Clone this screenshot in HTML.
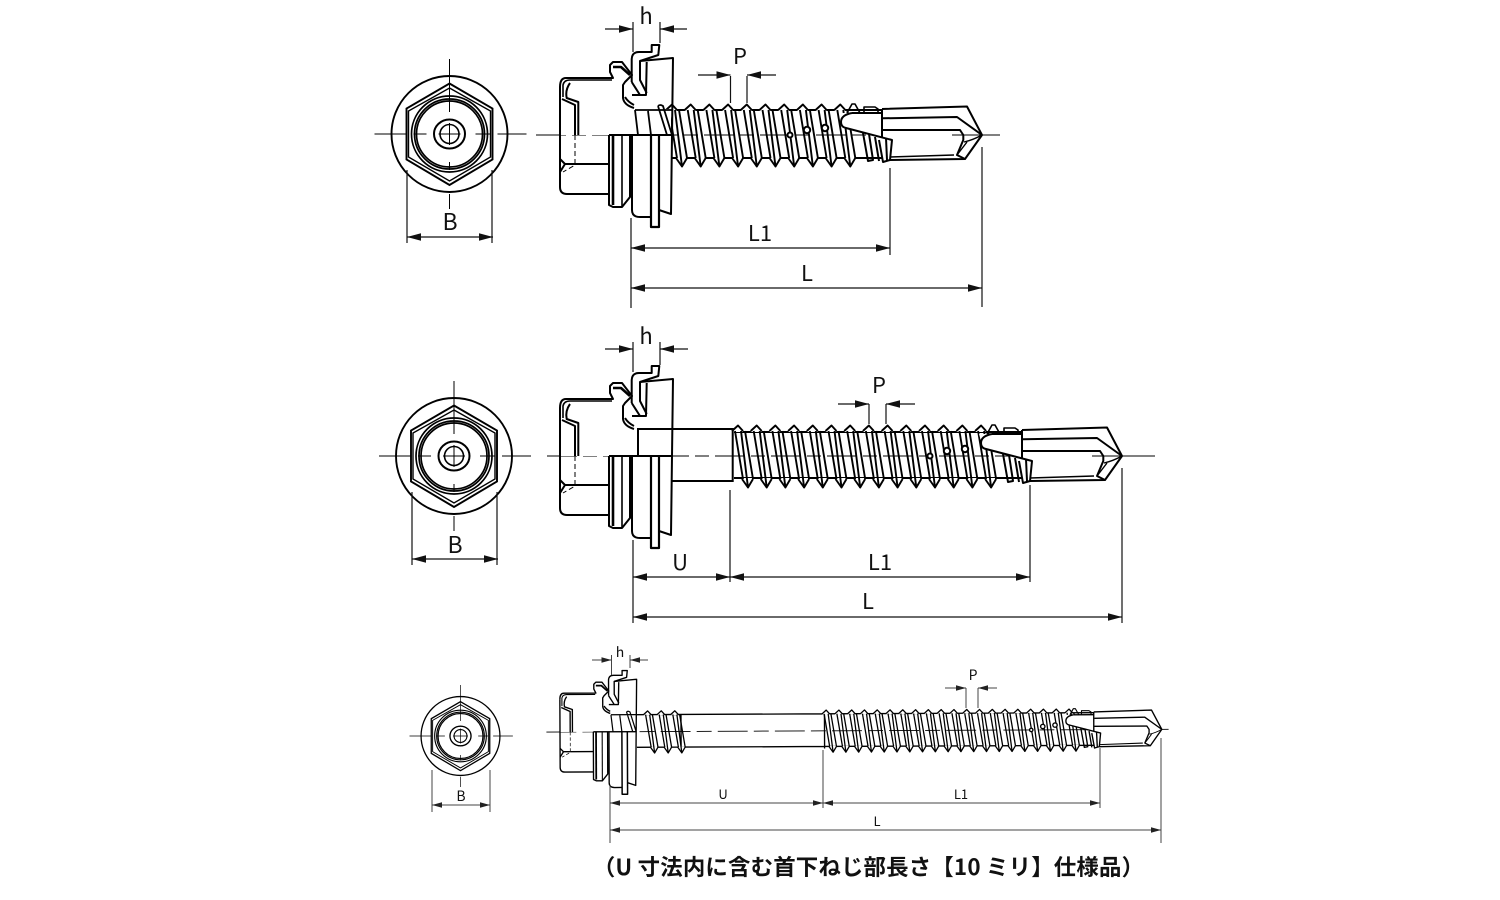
<!DOCTYPE html>
<html><head><meta charset="utf-8"><style>
html,body{margin:0;padding:0;background:#fff}
svg{display:block}
text{font-family:"Liberation Sans","Noto Sans CJK JP",sans-serif;fill:#111;text-anchor:middle}
.j{font-family:"Noto Sans CJK JP","Liberation Sans",sans-serif}
.d{stroke:#111;stroke-width:1.2;fill:none}
.a1{marker-end:url(#ar)}
.a2{marker-start:url(#ar);marker-end:url(#ar)}
.s{stroke:#444;stroke-width:1;fill:none}
.s1{marker-end:url(#as)}
.s2{marker-start:url(#as);marker-end:url(#as)}
</style></head><body>
<svg width="1500" height="900" viewBox="0 0 1500 900" xmlns="http://www.w3.org/2000/svg">
<defs>
<marker id="ar" markerUnits="userSpaceOnUse" markerWidth="15" markerHeight="9" refX="14" refY="4.5" orient="auto-start-reverse"><path d="M0,0.7 L14,4.5 L0,8.3Z" fill="#111"/></marker>
<marker id="as" markerUnits="userSpaceOnUse" markerWidth="11" markerHeight="7" refX="10" refY="3.5" orient="auto-start-reverse"><path d="M0,0.7 L10,3.5 L0,6.3Z" fill="#222"/></marker>

<g id="hd" fill="none" stroke="#000" stroke-width="2" stroke-linejoin="round">
<path fill="#fff" d="M0,-48 Q0,-57 6,-57 H53 L50,-63 V-70 L53,-73 H62 L72,-60 L65,-53 L63,-50 V-37 Q64,-30 74,-27 L74,0 H0Z" stroke="none"/>
<path d="M0,-48 Q0,-57 6,-57 H53 L50,-63 V-70 L53,-73 H62 L72,-60 L65,-53 L63,-50 V-37 Q64,-30 74,-27"/>
<path d="M53,-68 H61 L70,-60" stroke-width="2.6"/>
<path d="M3,-38 L3,-50 Q4,-55 10,-55 H52" stroke-width="1.6"/>
<path d="M2,-36 L15,-30 V0"/>
<path d="M10,-52 Q5,-45 6.7,-37 L18.3,-33 V0"/>
<path d="M0,-48 V52 Q0,59 7,59 H49"/>
<path d="M15,29 H49"/>
<path d="M0,24 L5,29 H15 M0,37 L5,29"/>
<path d="M15,0 V30 L3,37" stroke-width="1" stroke-dasharray="5 3"/>
<path d="M49,0 V70 L53,72 H62 L70,62 V0"/>
<path d="M53,0 V70" stroke-width="2.6"/>
<path d="M62,0 V72" stroke-width="1.6"/>
<path d="M70,0 V60" stroke-width="1.4"/>
<path d="M72,0 V75 Q72,82 80,82 H91"/>
<path d="M91,0 V92 H99 V0" stroke-width="2.2"/>
<path d="M99,75 L111,79 L112,0 L113,-77 L80,-74"/>
<path d="M71.7,-53 V-76 Q72,-83 79,-83 H91.7 V-90 H99.3 L98.3,-80 L80,-74 V-55 L86.7,-42" stroke-width="2"/>
<path d="M86.7,-73 L86,-40 H72 M65,-38 Q68,-33 74,-30 M71.7,-53 L80,-40" stroke-width="2"/>
<path d="M49,0 H112" stroke-width="2"/>
</g>
<g id="hb" fill="none" stroke="#000" stroke-width="1.8">
<path d="M75,-25 H112 M75,-25 L78,0 M88,-24 L91,0 M98,-29 Q100,-31 103,-29 L112,0 M98,-29 L107,0"/>
</g>
<g id="t" fill="none" stroke="#000" stroke-width="1.9" stroke-linejoin="round">
<path fill="#fff" stroke="none" d="M-6,-24 L0,-30.5 L5,-24Z M4,22 L10,31.5 L15,22Z"/>
<path d="M-6,-25 L0,-30.5 L5,-25"/>
<path d="M-3,-25 L5,23"/>
<path d="M3,-25 L10,31.5 L15,23"/>
<path d="M7,-25 L15,23"/>
<path d="M4,23 L10,31.5"/>
</g>
<g id="tp" fill="none" stroke="#000" stroke-width="2" stroke-linejoin="round">
<path fill="#fff" stroke="none" d="M-143,-22 H-100 V-26 L-15,-28.5 L0,0 L-17,24 L-92,25 L-90,5 L-139,-8Z"/>
<path d="M-135,-22 L-130,-31 L-127,-31 L-122,-22 M-118,-22 V-28 H-107 L-104,-26 V-22" stroke-width="1.6"/>
<path d="M-100,-26 L-15,-28.5 L0,0 L-17,24 L-92,25"/>
<path d="M-92,22 L-28,20" stroke-width="1.6"/>
<path d="M-99,-16.7 L-25,-18 L0,0"/>
<path d="M-99,-5 L-22,-5 L-18.7,0 V5 L-25,20 L-17,24"/>
<path d="M-18,7 Q-9,5 0,0 M-25,20 L-15,7" stroke-width="1.4"/>
<path d="M-100,-26 V2"/>
<path d="M-130,-22 H-100"/>
<path d="M-130,-22 Q-141,-20 -141,-13 Q-141,-8 -136,-7 L-90,5 L-92,25 L-99,27 L-103,5"/>
<path d="M-119,-2 L-114,26 L-109,25 L-113,-1"/>
<path d="M-107,2 L-103,26"/>
<path d="M-96,3 L-95,25"/>
<circle cx="-192" cy="0" r="2.5" fill="#fff"/>
<circle cx="-175" cy="-5" r="3.2" fill="#fff"/>
<circle cx="-157" cy="-7" r="3.2" fill="#fff"/>
</g>
<g id="fv" fill="none" stroke="#000">
<circle r="58" stroke-width="1.9"/>
<path d="M0,-50.5 L43,-25.5 V25.5 L0,51 L-43,25.5 V-25.5Z" stroke-width="1.9"/>
<path d="M0,-46 L41,-23 V23 L0,47 L-41,23 V-23Z" stroke-width="1.4"/>
<circle r="38" stroke-width="1.7"/>
<circle r="35" stroke-width="1.7"/>
<circle r="33" stroke-width="1.7"/>
<ellipse rx="15.5" ry="14.5" stroke-width="2"/>
<circle r="9.5" stroke-width="1.6"/>
<path d="M-75,0 H-43 M-36,0 H-23 M-11,0 H11 M26,0 H41 M48,0 H77 M0,-75 V-22 M0,-11 V11 M0,28 V36 M0,60 V75" stroke-width="1"/>
</g>
</defs>

<!-- Row 1 -->
<use href="#fv" x="449.5" y="134"/>
<path class="d" d="M407,170 V243 M492,170 V243"/>
<path class="d a2" d="M407,237 H493"/>
<text x="450" y="230" font-size="23" class="j">B</text>

<g transform="translate(560,135)">
<path d="M-24,0 H440" stroke="#000" stroke-width="1" stroke-dasharray="30 6 14 6"/>
<g fill="none" stroke="#000" stroke-width="2"><path d="M112,-25 H322 M112,23 H322"/></g>
<use href="#t" x="112"/><use href="#t" x="130.7"/><use href="#t" x="149.4"/><use href="#t" x="168.1"/><use href="#t" x="186.8"/><use href="#t" x="205.5"/><use href="#t" x="224.2"/><use href="#t" x="242.9"/><use href="#t" x="261.6"/><use href="#t" x="280.3"/>
<rect x="60" y="-26" width="51" height="115" fill="#fff"/>
<use href="#hb"/><use href="#hd"/>
<use href="#tp" x="422"/>
<path d="M392,0 H440" stroke="#000" stroke-width="1"/>
</g>
<path class="d" d="M633,22 V52 M660,22 V43 M730.5,76 V103 M747,76 V103 M631,218 V308 M890,168 V255 M982,147 V307"/>
<path class="d a1" d="M605,29 H633"/><path class="d a1" d="M687,29 H660"/>
<path class="d a1" d="M698,75 H730.5"/><path class="d a1" d="M776,75 H747"/>
<path class="d a2" d="M631,248 H890"/>
<path class="d a2" d="M631,288 H982"/>
<text x="646" y="24" font-size="22" class="j">h</text>
<text x="740" y="64" font-size="22" class="j">P</text>
<text x="760" y="241" font-size="22" class="j">L1</text>
<text x="807" y="281" font-size="22" class="j">L</text>

<!-- Row 2 -->
<use href="#fv" x="454" y="456"/>
<path class="d" d="M412,492 V565 M497,492 V565"/>
<path class="d a2" d="M412,559 H498"/>
<text x="455" y="553" font-size="23" class="j">B</text>

<g transform="translate(560,456)">
<path d="M-13,0 H595" stroke="#000" stroke-width="1" stroke-dasharray="30 6 14 6"/>
<g fill="none" stroke="#000" stroke-width="2"><path d="M174,-24 H462 M174,22 H462"/></g>
<use href="#t" x="178"/><use href="#t" x="196.7"/><use href="#t" x="215.4"/><use href="#t" x="234.1"/><use href="#t" x="252.8"/><use href="#t" x="271.5"/><use href="#t" x="290.2"/><use href="#t" x="308.9"/><use href="#t" x="327.6"/><use href="#t" x="346.3"/><use href="#t" x="365"/><use href="#t" x="383.7"/><use href="#t" x="402.4"/><use href="#t" x="421.1"/>
<use href="#hd"/>
<g fill="none" stroke="#000" stroke-width="2"><path d="M78,0 V-27 H172.7 V25 H111"/></g>
<use href="#tp" x="562"/>
<path d="M532,0 H595" stroke="#000" stroke-width="1"/>
</g>
<path class="d" d="M633,342 V372 M660,342 V365 M869,404 V424 M886,404 V424 M633,540 V623 M730,490 V582 M1030,485 V582 M1122,468 V623"/>
<path class="d a1" d="M605,349 H633"/><path class="d a1" d="M688,349 H660"/>
<path class="d a1" d="M838,404 H869"/><path class="d a1" d="M915,404 H886"/>
<path class="d a2" d="M633,577 H730"/>
<path class="d a2" d="M730,577 H1030"/>
<path class="d a2" d="M633,617 H1122"/>
<text x="646" y="344" font-size="22" class="j">h</text>
<text x="879" y="393" font-size="22" class="j">P</text>
<text x="680" y="570" font-size="22" class="j">U</text>
<text x="880" y="570" font-size="22" class="j">L1</text>
<text x="868" y="609" font-size="22" class="j">L</text>

<!-- Row 3 -->
<use href="#fv" transform="translate(460.5,736) scale(.68)"/>
<path class="s" d="M432,770 V812 M490,770 V812"/>
<path class="s s2" d="M432,805 H490"/>
<text x="461" y="801" font-size="14" class="j">B</text>

<g transform="translate(560,732) rotate(-0.25) scale(.68)">
<path d="M-20,0 H900" stroke="#000" stroke-width="1.3" stroke-dasharray="44 9 22 9"/>
<g fill="none" stroke="#000" stroke-width="2"><path d="M113,-25 H178 M113,23 H178 M178,-25 V23 M178,-25 H389 M178,23 H389 M389,-28 V26 M389,-25 H785 M389,23 H785"/></g>
<use href="#t" x="129"/><use href="#t" x="149"/><use href="#t" x="169"/>
<use href="#t" x="391.5"/><use href="#t" x="410.3"/><use href="#t" x="429.1"/><use href="#t" x="447.9"/><use href="#t" x="466.7"/><use href="#t" x="485.5"/><use href="#t" x="504.3"/><use href="#t" x="523.1"/><use href="#t" x="541.9"/><use href="#t" x="560.7"/><use href="#t" x="579.5"/><use href="#t" x="598.3"/><use href="#t" x="617.1"/><use href="#t" x="635.9"/><use href="#t" x="654.7"/><use href="#t" x="673.5"/><use href="#t" x="692.3"/><use href="#t" x="711.1"/><use href="#t" x="729.9"/><use href="#t" x="748.7"/>
<rect x="60" y="-26" width="51" height="115" fill="#fff"/>
<use href="#hb"/><use href="#hd"/>
<use href="#tp" x="885"/>
</g>
<path class="s" d="M611.5,655 V675 M630,655 V668 M966,688 V708 M978,688 V708 M610,785 V843 M823,750 V808 M1100,748 V808 M1161,738 V843"/>
<path class="s s1" d="M592,660 H611.5"/><path class="s s1" d="M648,660 H630"/>
<path class="s s1" d="M945,688 H966"/><path class="s s1" d="M997,688 H978"/>
<path class="s s2" d="M610,803 H823"/>
<path class="s s2" d="M823,803 H1100"/>
<path class="s s2" d="M610,830 H1161"/>
<text x="620" y="657" font-size="14" class="j">h</text>
<text x="973" y="680" font-size="14" class="j">P</text>
<text x="723" y="799" font-size="13" class="j">U</text>
<text x="961" y="799" font-size="13" class="j">L1</text>
<text x="877" y="826" font-size="13" class="j">L</text>

<text x="868.5" y="875" font-size="22.4" letter-spacing=".2" font-weight="700" class="j" xml:space="preserve">（U 寸法内に含む首下ねじ部長さ【10 ミリ】仕様品）</text>
</svg>
</body></html>
